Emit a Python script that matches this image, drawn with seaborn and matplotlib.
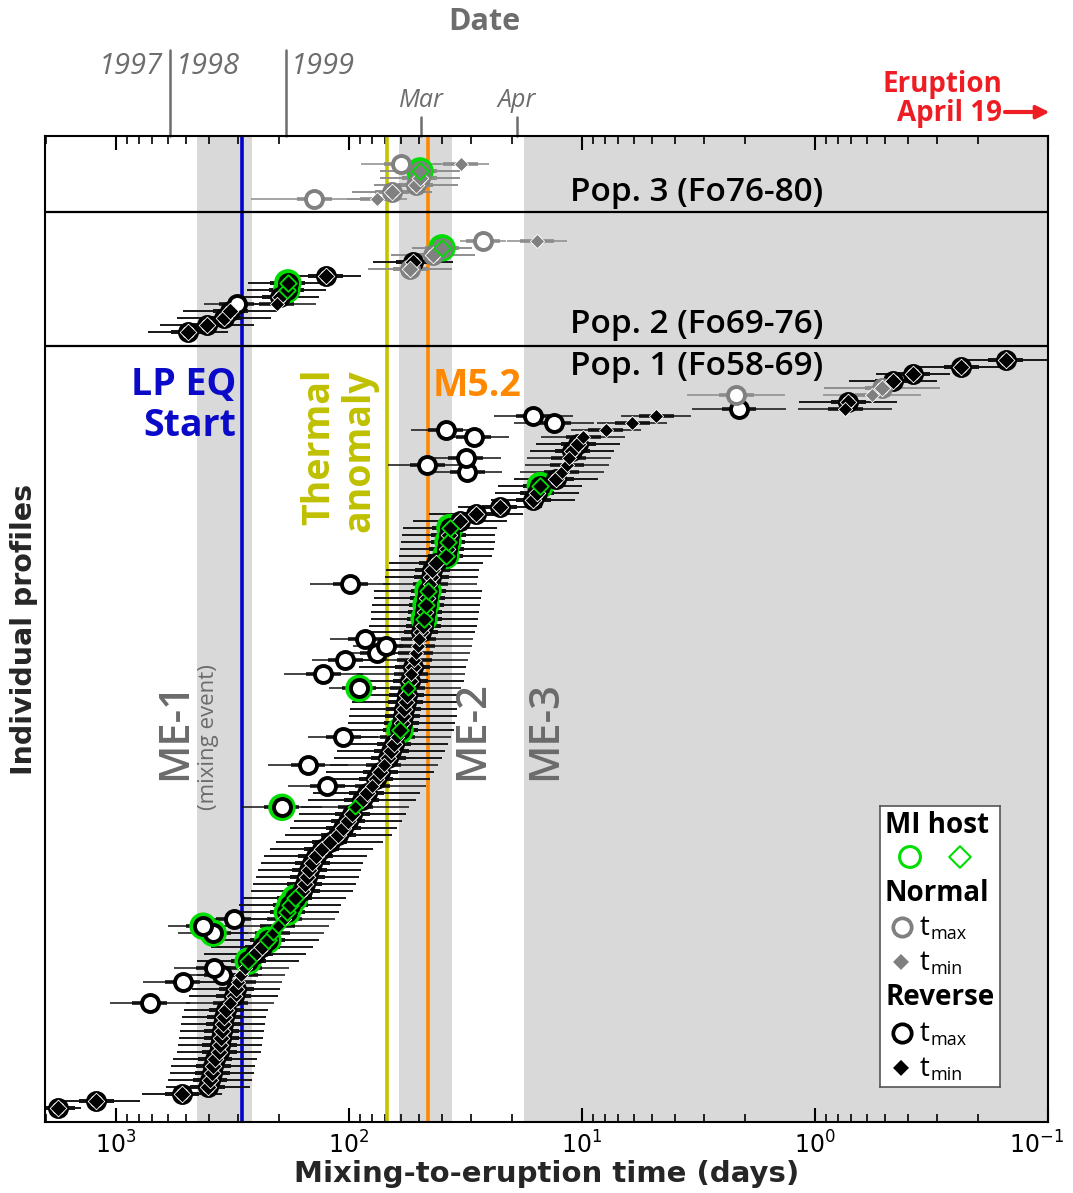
import numpy as np
import pandas as pd
import matplotlib
matplotlib.use("Agg")
import matplotlib.pyplot as plt
from matplotlib import transforms
import seaborn as sns

# ---------------------------------------------------------------------------
# Diffusion-chronometry results, one entry per olivine profile.
# rank   : profile number on the vertical axis (sorted within each population)
# t_min  : minimum mixing-to-eruption time (days)
# unc    : half-width of the uncertainty bar, in log10 units
# *_out_*: profiles whose maximum time (t_max) differs from t_min
# ---------------------------------------------------------------------------

# Pop. 1 (Fo58-69)
p1_rank = list(range(2, 110))
p1_tmin = [1774, 1218, 521, 403, 395, 387, 383, 376, 361, 358,
           354, 351, 347, 344, 337, 324, 313, 305, 299, 291,
           280, 271, 253, 236, 223, 212, 202, 190, 184, 179,
           171, 159, 155, 151, 148, 144, 139, 131, 121, 111,
           106, 101, 97, 94.2, 88, 84, 79.6, 76.6, 73.6, 70.8,
           68, 66, 64.1, 62.2, 60.4, 59.3, 58.7, 58.2, 57, 56.5,
           56, 54.7, 54.2, 53.2, 52.6, 51.6, 50.6, 50.1, 49.1, 48.1,
           47.6, 47.2, 46.7, 46.2, 45.8, 44.9, 44.4, 43.9, 42.3, 38.4,
           38, 37.6, 37.3, 36.9, 33.4, 28.5, 22.5, 16.2, 15.6, 15.1,
           12.9, 12.2, 11.6, 11.4, 11.0, 10.4, 9.9, 7.9, 6.1, 4.81,
           0.743, 0.72, 0.569, 0.516, 0.463, 0.38, 0.236, 0.152]
p1_unc = [0.10, 0.19, 0.17, 0.18, 0.18, 0.18, 0.18, 0.18, 0.18, 0.18,
          0.18, 0.18, 0.18, 0.18, 0.18, 0.19, 0.19, 0.19, 0.19, 0.19,
          0.19, 0.22, 0.22, 0.22, 0.22, 0.22, 0.22, 0.22, 0.22, 0.22,
          0.22, 0.22, 0.22, 0.22, 0.22, 0.22, 0.22, 0.22, 0.23, 0.23,
          0.23, 0.23, 0.23, 0.23, 0.23, 0.23, 0.23, 0.23, 0.23, 0.23,
          0.23, 0.23, 0.23, 0.23, 0.23, 0.23, 0.23, 0.23, 0.23, 0.23,
          0.23, 0.23, 0.23, 0.23, 0.23, 0.23, 0.23, 0.23, 0.23, 0.23,
          0.23, 0.23, 0.23, 0.23, 0.23, 0.20, 0.20, 0.20, 0.20, 0.20,
          0.20, 0.20, 0.20, 0.20, 0.20, 0.20, 0.18, 0.18, 0.18, 0.18,
          0.18, 0.18, 0.18, 0.18, 0.18, 0.18, 0.18, 0.15, 0.15, 0.15,
          0.20, 0.21, 0.21, 0.25, 0.19, 0.16, 0.21, 0.21]
p1_out_rank = [17, 20, 21, 22, 27, 28, 29, 45, 48, 51, 55, 62, 64, 66,
               67, 68, 69, 77, 93, 94, 95, 98, 99, 100, 101, 102, 104]
p1_out_tmax = [715, 516, 351, 380, 383, 423, 312, 194, 124, 150, 106, 90.6,
               129, 104, 75.8, 69.4, 85.4, 99, 31.1, 46.2, 31.5, 29.1, 38.4,
               13.2, 16.2, 2.12, 2.18]
p1_out_unc = [0.17, 0.17, 0.17, 0.17, 0.15, 0.15, 0.15, 0.17, 0.17, 0.17,
              0.15, 0.13, 0.17, 0.14, 0.14, 0.14, 0.15, 0.17, 0.15, 0.17,
              0.15, 0.15, 0.15, 0.17, 0.17, 0.20, 0.21]
p1_normal = [104, 105]
p1_host = [23, 26, 27, 28, 30, 31, 32, 45, 56, 62, 72, 74, 76, 81, 83, 85, 91]

# Pop. 2 (Fo69-76)
p2_rank = [113, 114, 115, 116, 117, 118, 119, 120, 121, 122, 123, 124, 125, 126]
p2_tmin = [491, 407, 344, 324, 204, 198, 185, 183, 126, 54.7, 53.1, 43.6, 39.9, 15.6]
p2_unc = [0.17, 0.20, 0.20, 0.20, 0.17, 0.17, 0.17, 0.17, 0.15, 0.18, 0.17, 0.18, 0.13, 0.13]
p2_out_rank = [117, 126]
p2_out_tmax = [303, 26.6]
p2_out_unc = [0.14, 0.10]
p2_normal = [122, 124, 125, 126]
p2_host = [119, 120, 125]

# Pop. 3 (Fo76-80)
p3_rank = [132, 133, 134, 135, 136, 137]
p3_tmin = [75.8, 65.4, 51.6, 49.6, 49.6, 33.1]
p3_unc = [0.13, 0.17, 0.18, 0.17, 0.17, 0.12]
p3_out_rank = [132, 137]
p3_out_tmax = [141, 59.8]
p3_out_unc = [0.27, 0.17]
p3_normal = [132, 133, 134, 135, 136, 137]
p3_host = [136]

# Events (days before the 19 April eruption)
lp_eq_start = 288
thermal_anomaly = 68.7
m52_quake = 45.8
me1_span = (449, 261)
me2_span = (61.0, 36.1)
me3_span = (17.7, 0.1)
year_ticks = [586, 186]
month_ticks = {"Mar": 49, "Apr": 19}

# Population boundaries on the profile axis
pop_bounds = [110.9, 130.1]

GREEN = "#00dd00"
BLACK = "#000000"
GREY = "#808080"
BAND = "#d9d9d9"
TEXT_GREY = "#6b6b6b"
OPEN = ["Open Sans", "DejaVu Sans"]


def build(rank, tmin, unc, out_rank, out_tmax, out_unc, normal, host):
    df = pd.DataFrame({"rank": rank, "t_min": tmin, "unc_min": unc}).set_index("rank")
    df["t_max"] = df["t_min"]
    df["unc_max"] = df["unc_min"]
    df.loc[out_rank, "t_max"] = out_tmax
    df.loc[out_rank, "unc_max"] = out_unc
    df["zoning"] = np.where(df.index.isin(normal), "Normal", "Reverse")
    df["host"] = df.index.isin(host)
    df["paired"] = df["t_max"] == df["t_min"]
    return df.reset_index()


profiles = pd.concat([
    build(p1_rank, p1_tmin, p1_unc, p1_out_rank, p1_out_tmax, p1_out_unc, p1_normal, p1_host),
    build(p2_rank, p2_tmin, p2_unc, p2_out_rank, p2_out_tmax, p2_out_unc, p2_normal, p2_host),
    build(p3_rank, p3_tmin, p3_unc, p3_out_rank, p3_out_tmax, p3_out_unc, p3_normal, p3_host),
], ignore_index=True)

sns.set_theme(style="ticks")
plt.rcParams["font.family"] = ["DejaVu Sans"]
plt.rcParams["axes.unicode_minus"] = False

fig = plt.figure(figsize=(10.73, 11.93), dpi=100)
ax = fig.add_axes([0.04194, 0.05951, 0.9348, 0.8265])
ax.set_xscale("log")

# Mixing-event bands and event lines
for lo, hi in (me1_span, me2_span, me3_span):
    ax.axvspan(lo, hi, color=BAND, lw=0, zorder=0)
ax.axvline(lp_eq_start, color="#0000cc", lw=2.6, zorder=1.5)
ax.axvline(thermal_anomaly, color="#c4c400", lw=2.6, zorder=1.5)
ax.axvline(m52_quake, color="#ff8800", lw=2.6, zorder=1.5)
for yb in pop_bounds:
    ax.axhline(yb, color="black", lw=1.6, zorder=1.6)

# Uncertainty bars: thin full range plus a thick core around each estimate
CORE = 0.075
for zoning, col in (("Reverse", "#111111"), ("Normal", "#8c8c8c")):
    d = profiles[profiles.zoning == zoning]
    for tcol, ucol in (("t_max", "unc_max"), ("t_min", "unc_min")):
        x = d[tcol].to_numpy()
        f = 10 ** d[ucol].to_numpy()
        y = d["rank"].to_numpy()
        ax.hlines(y, x / f, x * f, color=col, lw=1.1, zorder=2)
        ax.hlines(y, x / 10 ** CORE, x * 10 ** CORE, color=col, lw=2.6, zorder=2.1)

# Markers: t_max circles, t_min diamonds, MI-host halo in green
sns.scatterplot(data=profiles[profiles.host], x="t_max", y="rank", marker="o", s=390,
                color=GREEN, edgecolor="none", linewidth=0, zorder=3, legend=False, ax=ax)
for zoning, col in (("Reverse", BLACK), ("Normal", GREY)):
    d = profiles[profiles.zoning == zoning]
    sns.scatterplot(data=d, x="t_max", y="rank", marker="o", s=150, color="white",
                    edgecolor=col, linewidth=2.8, zorder=4, legend=False, ax=ax)
    for host, ecol, elw in ((False, "white", 0.6), (True, GREEN, 1.3)):
        dd = d[d.host == host]
        # a diamond sitting inside its circle fills the ring; a lone one is smaller
        sns.scatterplot(data=dd[dd.paired], x="t_min", y="rank", marker="D", s=72, color=col,
                        edgecolor=ecol, linewidth=elw, zorder=5, legend=False, ax=ax)
        sns.scatterplot(data=dd[~dd.paired], x="t_min", y="rank", marker="D", s=52, color=col,
                        edgecolor=ecol, linewidth=elw, zorder=5, legend=False, ax=ax)

ax.set_xlim(2017, 0.1)
ax.set_ylim(0, 141)
ax.set_yticks([])
ax.tick_params(axis="x", which="both", direction="in", top=True, bottom=True,
               labelsize=17, pad=7, colors="black")
ax.tick_params(axis="x", which="major", length=10, width=1.5)
ax.tick_params(axis="x", which="minor", length=5.5, width=1.2)
for s in ax.spines.values():
    s.set_linewidth(1.5)
    s.set_color("black")
ax.set_xlabel("Mixing-to-eruption time (days)", fontsize=21, fontweight="bold", labelpad=1)
ax.set_ylabel("Individual profiles", fontsize=20.5, fontweight="bold", labelpad=5)

# keep the right-most tick label inside the figure
fig.canvas.draw()
shift = transforms.ScaledTranslation(-8 / 72, 0, fig.dpi_scale_trans)
for tk in ax.xaxis.get_major_ticks():
    if np.isclose(tk.get_loc(), 0.1):
        tk.label1.set_transform(tk.label1.get_transform() + shift)

# Calendar ticks above the frame
top = transforms.blended_transform_factory(ax.transData, ax.transAxes)
for t in year_ticks:
    ax.plot([t, t], [1.0, 1.087], transform=top, color="#6d6d6d", lw=1.8, clip_on=False)
for name, t in month_ticks.items():
    ax.plot([t, t], [1.0, 1.019], transform=top, color="#6d6d6d", lw=1.8, clip_on=False)
    ax.text(t, 1.036, name, transform=top, ha="center", va="center", fontsize=18,
            style="italic", color="#6d6d6d", family=OPEN)
ykw = dict(xycoords=top, textcoords="offset points", va="center", fontsize=21,
           style="italic", color="#6d6d6d", family=OPEN)
ax.annotate("1997", xy=(year_ticks[0], 1.07), xytext=(-5, 0), ha="right", **ykw)
ax.annotate("1998", xy=(year_ticks[0], 1.07), xytext=(4, 0), ha="left", **ykw)
ax.annotate("1999", xy=(year_ticks[1], 1.07), xytext=(3, 0), ha="left", **ykw)
fig.text(0.451, 0.9816, "Date", ha="center", va="center", fontsize=22, fontweight="bold",
         color="#6d6d6d", family=OPEN)

RED = "#ee1d23"
fig.text(0.934, 0.917, "Eruption\nApril 19", ha="right", va="center", fontsize=20,
         fontweight="bold", color=RED, family=OPEN, linespacing=1.0, multialignment="right")
fig.add_artist(plt.Line2D([0.937, 0.962], [0.906, 0.906], color=RED, lw=3))
ax.annotate("", xy=(0.978, 0.906), xycoords="figure fraction", xytext=(0.955, 0.906),
            arrowprops=dict(arrowstyle="-|>", color=RED, lw=2.5, mutation_scale=20,
                            shrinkA=0, shrinkB=0))

# Population labels
for yv, lab in ((132.9, "Pop. 3 (Fo76-80)"), (114.1, "Pop. 2 (Fo69-76)"), (108.0, "Pop. 1 (Fo58-69)")):
    ax.text(11.3, yv, lab, ha="left", va="center", fontsize=24, fontweight="semibold",
            color="black", family=OPEN, zorder=6)

# Event labels
ax.text(305, 102.4, "LP EQ\nStart", ha="right", va="center", multialignment="right",
        fontsize=27, fontweight="bold", color="#0a0ac8", family=OPEN, linespacing=1.1)
ax.text(110, 107.7, "Thermal\nanomaly", rotation=90, ha="center", va="top",
        multialignment="right", fontsize=27, fontweight="bold", color="#c0c000",
        family=OPEN, linespacing=1.1)
ax.text(43.6, 105.3, "M5.2", ha="left", va="center", fontsize=27, fontweight="bold",
        color="#ff8800", family=OPEN)
for xv, lab in ((560, "ME-1"), (29.6, "ME-2"), (14.4, "ME-3")):
    ax.text(xv, 56.0, lab, rotation=90, ha="center", va="center", fontsize=30,
            fontweight="semibold", color=TEXT_GREY, family=OPEN, zorder=6)
ax.text(400, 55.0, "(mixing event)", rotation=90, ha="center", va="center", fontsize=16,
        color=TEXT_GREY, family=OPEN, zorder=6)

# Key
leg = ax.inset_axes([0.8325, 0.0355, 0.1195, 0.285])
leg.set_zorder(10)
leg.set_xlim(0, 1)
leg.set_ylim(0, 1)
leg.set_xticks([])
leg.set_yticks([])
leg.set_facecolor("white")
for s in leg.spines.values():
    s.set_color("#555555")
    s.set_linewidth(1.2)
hkw = dict(ha="center", va="center", fontsize=20, fontweight="bold", color="black", family=OPEN)
leg.text(0.475, 0.929, "MI host", **hkw)
leg.text(0.475, 0.69, "Normal", **hkw)
leg.text(0.50, 0.317, "Reverse", **hkw)
leg.scatter([0.25], [0.8185], s=225, marker="o", facecolor="none", edgecolor=GREEN, linewidth=2.2, clip_on=False)
leg.scatter([0.667], [0.8185], s=120, marker="D", facecolor="none", edgecolor=GREEN, linewidth=1.5, clip_on=False)
rows = [(0.569, "o", GREY, "max"), (0.445, "D", GREY, "min"),
        (0.192, "o", BLACK, "max"), (0.068, "D", BLACK, "min")]
for yv, mk, col, sub in rows:
    if mk == "o":
        leg.scatter([0.183], [yv], s=175, marker="o", facecolor="white", edgecolor=col,
                    linewidth=2.7, clip_on=False)
    else:
        leg.scatter([0.175], [yv], s=66, marker="D", facecolor=col, edgecolor="none", clip_on=False)
    leg.text(0.333, yv - 0.028, "t", ha="left", va="baseline", fontsize=20, color="black", family=OPEN)
    leg.text(0.425, yv - 0.042, sub, ha="left", va="baseline", fontsize=13, color="black", family=OPEN)

fig.savefig("out.png", dpi=100)
